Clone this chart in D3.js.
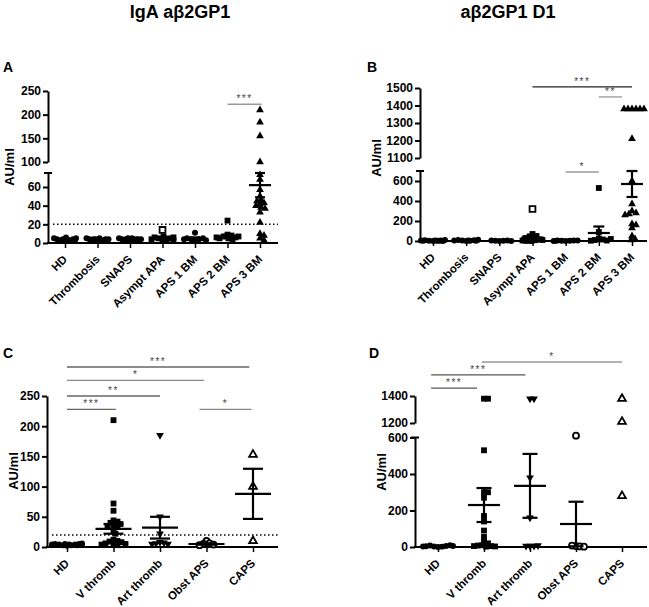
<!DOCTYPE html>
<html>
<head>
<meta charset="utf-8">
<script src="https://cdn.jsdelivr.net/npm/d3@7"></script>
<style>
  body { margin: 0; background: #fff; }
  svg text { font-family: "Liberation Sans", Arial, sans-serif; }
</style>
</head>
<body>
<svg id="fig" width="649" height="607"></svg>
<script>
// ---------- data ----------
const groupsAB = ["HD", "Thrombosis", "SNAPS", "Asympt APA", "APS 1 BM", "APS 2 BM", "APS 3 BM"];
const groupsCD = ["HD", "V thromb", "Art thromb", "Obst APS", "CAPS"];

// panel A: IgA anti-b2GP1 (AU/ml)
const valuesA = [
  [2, 3, 3, 4, 4, 5, 5, 6, 4, 3],
  [3, 3, 4, 4, 4, 4, 5, 5, 3, 4],
  [3, 3, 4, 4, 4, 4, 5, 5, 5, 4, 3, 4],
  [14, 3, 4, 5, 5, 6, 7, 4, 3, 5, 6],
  [11, 3, 4, 4, 5, 5, 3, 4],
  [24, 9, 8, 7, 6, 5, 5, 4, 6, 7],
  [210, 184, 155, 100, 73, 68, 57, 50, 46, 45, 43, 42, 40, 38, 37, 33, 22, 10, 8, 5, 3]
];
const meanA = [4, 4, 4, 5, 5, 7, 62];
const semA = [0.8, 0.5, 0.5, 1.2, 1, 1.8, 13];
const ticksA = [[0, 20, 40, 60], [100, 150, 200, 250]];
const sigA = [[5, 6.05, "***"]];

// panel B: anti-b2GP1 D1 (AU/ml)
const valuesB = [
  [0, 2, 3, 5, 8, 10, 4, 1, 6, 3, 2],
  [0, 3, 5, 8, 10, 12, 4, 2, 6],
  [0, 2, 3, 5, 4, 1],
  [320, 70, 50, 40, 30, 20, 15, 10, 5, 3, 2, 0, 8],
  [0, 2, 3, 5, 6, 4, 1, 3],
  [530, 90, 25, 15, 10, 5, 3, 20],
  [1380, 1380, 1380, 1380, 1380, 1380, 1210, 600, 370, 300, 280, 270, 260, 170, 160, 130, 50, 20, 10]
];
const meanB = [3, 4, 2, 35, 3, 80, 570];
const semB = [1, 1, 1, 30, 1, 65, 130];
const ticksB = [[0, 200, 400, 600], [1100, 1200, 1300, 1400, 1500]];
const sigB = [[3, 6, "***"], [5, 5.7, "**"], [4, 5, "*"]];

// panel C: IgA anti-b2GP1 by clinical group
const valuesC = [
  [2, 3, 3, 4, 4, 5, 5, 6, 4, 3, 4, 5],
  [210, 72, 60, 44, 42, 40, 38, 36, 35, 33, 28, 22, 12, 10, 9, 8, 6, 5, 5, 4, 3],
  [185, 50, 22, 8, 7, 6, 5, 5],
  [10, 6, 5, 4, 3],
  [153, 100, 10]
];
const meanC = [4, 30, 32, 5, 88];
const semC = [0.5, 8, 18, 1.2, 41.5];
const ticksC = [[0, 50, 100, 150, 200, 250]];
const sigC = [[0, 3.92, "***"], [0, 2.95, "*"], [0, 2, "**"], [0, 1.05, "***"], [2.85, 3.97, "*"]];

// panel D: anti-b2GP1 D1 by clinical group
const valuesD = [
  [0, 2, 3, 5, 8, 10, 4, 6, 3],
  [1380, 1380, 530, 300, 300, 270, 170, 140, 90, 55, 30, 20, 10, 8, 5, 5, 3, 2],
  [1380, 1380, 380, 160, 5, 5, 5, 8],
  [610, 5, 3, 8, 2],
  [1380, 1210, 280]
];
const meanD = [5, 230, 335, 126, null];
const semD = [1, 93, 175, 122, null];
const ticksD = [[0, 200, 400, 600], [1200, 1400]];
const sigD = [[0.95, 4, "*"], [-0.15, 1.9, "***"], [-0.15, 0.85, "***"]];

const threshold = 20;

// ---------- drawing ----------
const svg = d3.select("#fig");
svg.append("rect").attr("width", 649).attr("height", 607).attr("fill", "#fff");

svg.append("text").attr("x", 180).attr("y", 18).attr("text-anchor", "middle")
  .attr("font-size", 18).attr("font-weight", "bold").text("IgA aβ2GP1");
svg.append("text").attr("x", 508).attr("y", 18).attr("text-anchor", "middle")
  .attr("font-size", 18).attr("font-weight", "bold").text("aβ2GP1 D1");

const shapesAB = ["circle", "circle", "circle", "square", "circle", "square", "triangle"];
const openAB = [false, false, false, false, false, false, false];
const hollowAB = { 3: [0] };   // the single open square in Asympt APA
const shapesCD = ["circle", "square", "down", "circle", "triangle"];
const openCD = [false, false, false, true, true];

const symSize = { circle: 28, square: 34, triangle: 26, down: 26 };
function symPath(shape) {
  const type = shape === "circle" ? d3.symbolCircle
    : shape === "square" ? d3.symbolSquare : d3.symbolTriangle;
  return d3.symbol().type(type).size(symSize[shape])();
}

// simple beeswarm so points of a group do not sit on top of each other
function swarm(ys, dist, maxOff) {
  const placed = [];
  return ys.map(y => {
    let best = 0, bestScore = -1;
    for (let k = 0; k <= 2 * maxOff; k++) {
      const off = (k % 2 ? 1 : -1) * Math.ceil(k / 2);
      let minD = Infinity;
      for (const p of placed) {
        const d = Math.hypot(p[0] - off, p[1] - y);
        if (d < minD) minD = d;
      }
      if (minD >= dist) { best = off; break; }
      if (minD > bestScore) { bestScore = minD; best = off; }
    }
    placed.push([best, y]);
    return best;
  });
}

function drawPanel(p) {
  const g = svg.append("g");

  g.append("text").attr("x", p.letter[1]).attr("y", p.letter[2])
    .attr("font-size", 14).attr("font-weight", "bold").text(p.letter[0]);

  const x = d3.scalePoint().domain(p.cats).range(p.xr);
  const xi = d3.scaleLinear().domain([0, p.cats.length - 1]).range(p.xr);

  const segs = p.segs.map((s, i) => ({
    ...s, ticks: p.ticks[i],
    scale: d3.scaleLinear().domain(s.d).range(s.r)
  }));
  const y = v => {
    let best = segs[0], bd = Infinity;
    for (const s of segs) {
      const dd = v < s.d[0] ? s.d[0] - v : v > s.d[1] ? v - s.d[1] : 0;
      if (dd < bd) { bd = dd; best = s; }
    }
    return best.scale(v);
  };

  // y axis segments
  segs.forEach(s => {
    const ax = g.append("g").attr("transform", `translate(${p.axisX},0)`)
      .call(d3.axisLeft(s.scale).tickValues(s.ticks).tickFormat(d3.format("d"))
        .tickSize(5).tickSizeOuter(0).tickPadding(2));
    ax.select(".domain").attr("stroke-width", 2);
    ax.selectAll(".tick line").attr("stroke-width", 2);
    ax.selectAll("text").attr("font-size", 12).attr("font-weight", "bold").attr("fill", "#000");
    if (s.cap) {
      g.append("line").attr("x1", p.axisX - 4).attr("x2", p.axisX + 4)
        .attr("y1", s.r[1]).attr("y2", s.r[1]).attr("stroke", "#000").attr("stroke-width", 2);
    }
  });

  // x axis
  const xa = g.append("g").attr("transform", `translate(0,${p.baseY})`)
    .call(d3.axisBottom(x).tickSize(5).tickFormat(""));
  xa.select(".domain").remove();
  xa.selectAll(".tick line").attr("stroke-width", 1.5);
  g.append("line").attr("x1", p.axisX - 1).attr("x2", p.axisEnd)
    .attr("y1", p.baseY).attr("y2", p.baseY).attr("stroke", "#000").attr("stroke-width", 2);
  g.selectAll("text.cat").data(p.cats).join("text").attr("class", "cat")
    .attr("transform", d => `translate(${x(d) + 3},${p.baseY + 17}) rotate(-45)`)
    .attr("text-anchor", "end").attr("font-size", 11.5).attr("font-weight", "bold").text(d => d);

  // y label
  g.append("text").attr("transform", `translate(${p.ylab[0]},${p.ylab[1]}) rotate(-90)`)
    .attr("text-anchor", "middle").attr("dy", "0.35em")
    .attr("font-size", 13).attr("font-weight", "bold").text("AU/ml");

  // threshold
  if (p.threshold != null) {
    g.append("line").attr("x1", p.axisX + 5).attr("x2", p.axisEnd)
      .attr("y1", y(p.threshold)).attr("y2", y(p.threshold))
      .attr("stroke", "#000").attr("stroke-width", 1.5).attr("stroke-dasharray", "1.5,2.5");
  }

  // points
  p.values.forEach((vals, gi) => {
    const ys = vals.map(y);
    const offs = swarm(ys, 3.8, p.maxOff);
    const shape = p.shapes[gi];
    const hollow = (p.hollow && p.hollow[gi]) || [];
    const path = symPath(shape);
    g.append("g").selectAll("path").data(vals).join("path")
      .attr("d", path)
      .attr("transform", (d, i) => `translate(${x(p.cats[gi]) + offs[i]},${ys[i]})` + (shape === "down" ? " rotate(180)" : ""))
      .attr("fill", (d, i) => (p.open[gi] || hollow.includes(i)) ? "#fff" : "#000")
      .attr("stroke", (d, i) => (p.open[gi] || hollow.includes(i)) ? "#000" : "none")
      .attr("stroke-width", 1.8);
  });

  // mean +/- SEM
  p.mean.forEach((m, gi) => {
    if (m == null) return;
    const cx = x(p.cats[gi]);
    const se = p.sem[gi];
    const eg = g.append("g").attr("stroke", "#000").attr("stroke-width", 2.2);
    eg.append("line").attr("x1", cx).attr("x2", cx).attr("y1", y(m - se)).attr("y2", y(m + se));
    eg.append("line").attr("x1", cx - p.meanW / 2).attr("x2", cx + p.meanW / 2).attr("y1", y(m)).attr("y2", y(m));
    [m - se, m + se].forEach(v => {
      eg.append("line").attr("x1", cx - p.capW / 2).attr("x2", cx + p.capW / 2).attr("y1", y(v)).attr("y2", y(v));
    });
  });

  // significance brackets
  p.sig.forEach((s, i) => {
    const ly = y(p.sigLevels[i]);
    g.append("line").attr("x1", xi(s[0])).attr("x2", xi(s[1])).attr("y1", ly).attr("y2", ly)
      .attr("stroke", p.sigColors[i]).attr("stroke-width", 1.3);
    g.append("text").attr("x", (xi(s[0]) + xi(s[1])) / 2).attr("y", ly - 2)
      .attr("text-anchor", "middle").attr("font-size", 10).attr("letter-spacing", 1.5)
      .attr("fill", "#444").text(s[2]);
  });
}

drawPanel({
  letter: ["A", 3, 72], cats: groupsAB, values: valuesA, mean: meanA, sem: semA,
  shapes: shapesAB, open: openAB, hollow: hollowAB, ticks: ticksA,
  axisX: 48, axisEnd: 278, baseY: 243, xr: [65, 260],
  segs: [{ d: [0, 75], r: [243, 173], cap: true }, { d: [100, 250], r: [162, 91] }],
  threshold: threshold, sig: sigA, sigLevels: [222], sigColors: ["#999"],
  ylab: [9, 167], meanW: 22, capW: 10, maxOff: 11
});

drawPanel({
  letter: ["B", 367, 72], cats: groupsAB, values: valuesB, mean: meanB, sem: semB,
  shapes: shapesAB, open: openAB, hollow: hollowAB, ticks: ticksB,
  axisX: 420, axisEnd: 647, baseY: 241, xr: [433, 632],
  segs: [{ d: [0, 700], r: [241, 171], cap: true }, { d: [1100, 1500], r: [158, 88] }],
  threshold: null, sig: sigB, sigLevels: [1506, 1449, 690], sigColors: ["#222", "#999", "#999"],
  ylab: [376, 158], meanW: 22, capW: 11, maxOff: 12
});

drawPanel({
  letter: ["C", 3, 358], cats: groupsCD, values: valuesC, mean: meanC, sem: semC,
  shapes: shapesCD, open: openCD, ticks: ticksC,
  axisX: 47, axisEnd: 278, baseY: 547, xr: [67, 253],
  segs: [{ d: [0, 250], r: [547, 396] }],
  threshold: threshold, sig: sigC, sigLevels: [298, 276, 250, 228, 228],
  sigColors: ["#666", "#888", "#666", "#666", "#888"],
  ylab: [13, 471], meanW: 36, capW: 20, maxOff: 15
});

drawPanel({
  letter: ["D", 369, 358], cats: groupsCD, values: valuesD, mean: meanD, sem: semD,
  shapes: shapesCD, open: openCD, ticks: ticksD,
  axisX: 415, axisEnd: 647, baseY: 547, xr: [438, 622],
  segs: [{ d: [0, 600], r: [547, 437.5], cap: true }, { d: [1200, 1400], r: [423, 396] }],
  threshold: null, sig: sigD, sigLevels: [1652, 1556, 1459], sigColors: ["#999", "#555", "#555"],
  ylab: [381, 472], meanW: 32, capW: 15, maxOff: 15
});
</script>
</body>
</html>
